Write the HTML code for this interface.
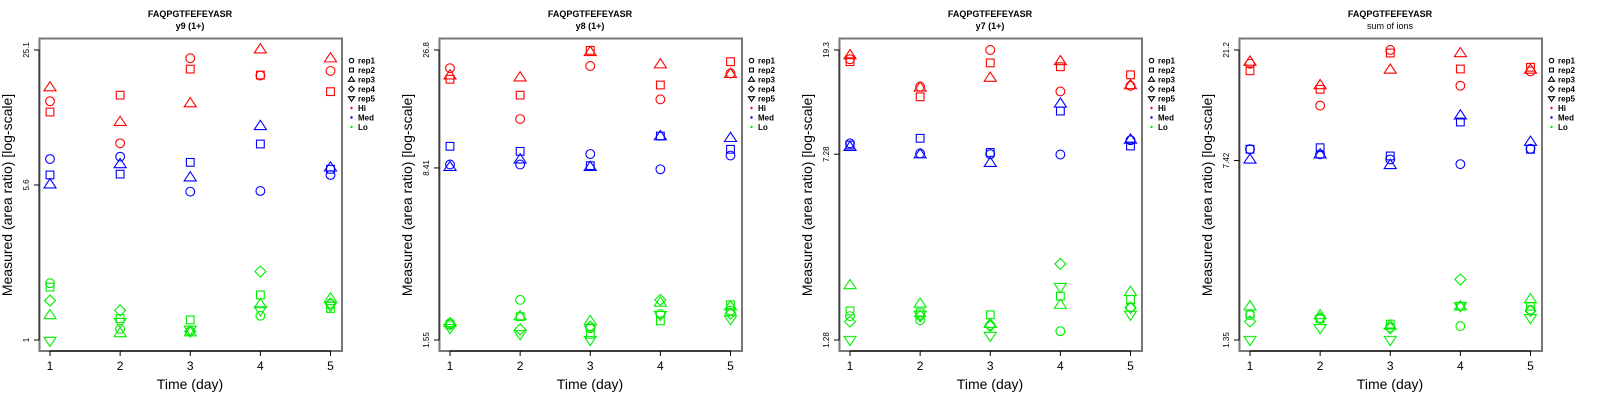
<!DOCTYPE html>
<html><head><meta charset="utf-8">
<style>
body{margin:0;background:#fff;}
svg{display:block;font-family:"Liberation Sans",sans-serif;}
</style></head>
<body>
<svg id="chart" width="1600" height="400" viewBox="0 0 1600 400" xmlns="http://www.w3.org/2000/svg"></svg>
<script>
const days = [1, 2, 3, 4, 5];
const panelTitles = ["y9 (1+)", "y8 (1+)", "y7 (1+)", "sum of ions"];
const peptide = "FAQPGTFEFEYASR";
const yTickLabels = [["1", "5.6", "25.1"], ["1.55", "8.41", "26.8"], ["1.28", "7.28", "19.3"], ["1.35", "7.42", "21.2"]];
const yTickValues = [[1, 5.6, 25.1], [1.55, 8.41, 26.8], [1.28, 7.28, 19.3], [1.35, 7.42, 21.2]];
const repNames = ["rep1", "rep2", "rep3", "rep4", "rep5"];
const groupNames = ["Hi", "Med", "Lo"];
const groupColors = ["#ff0000", "#0000ff", "#00ee00"];

// each array: rows = replicates (rep1..rep5), columns = days 1..5
const p1Hi = [[14.2, 8.9, 22.9, 18.9, 19.9], [12.6, 15.2, 20.3, 19.0, 15.8], [16.6, 11.3, 13.9, 25.3, 22.9]];
const p1Med = [[7.47, 7.67, 5.2, 5.24, 6.26], [6.26, 6.32, 7.2, 8.83, 6.67], [5.64, 7.07, 6.1, 10.8, 6.81]];
const p1Lo = [[1.88, 1.13, 1.1, 1.31, 1.49], [1.80, 1.27, 1.25, 1.65, 1.42], [1.32, 1.08, 1.09, 1.49, 1.59], [1.55, 1.39, 1.1, 2.14, 1.50], [0.99, 1.22, 1.12, 1.39, 1.46]];
const p2Hi = [[22.4, 13.6, 22.9, 16.5, 21.3], [20.1, 17.2, 26.7, 19.0, 23.9], [20.9, 20.5, 26.3, 23.3, 21.2]];
const p2Med = [[8.7, 8.7, 9.64, 8.3, 9.5], [10.4, 9.9, 8.6, 11.5, 10.1], [8.5, 9.15, 8.5, 11.5, 11.3]];
const p2Lo = [[1.83, 2.3, 1.74, 2.0, 2.07], [1.80, 1.95, 1.64, 1.87, 2.19], [1.83, 1.96, 1.87, 2.24, 2.16], [1.81, 1.72, 1.77, 2.3, 2.01], [1.74, 1.64, 1.55, 1.98, 1.9]];
const p3Hi = [[17.7, 13.7, 19.3, 13.1, 13.8], [17.3, 12.45, 17.1, 16.5, 15.3], [18.4, 13.6, 14.9, 17.4, 13.9]];
const p3Med = [[8.06, 7.33, 7.28, 7.26, 8.3], [7.93, 8.45, 7.4, 10.9, 7.86], [7.8, 7.28, 6.72, 11.7, 8.35]];
const p3Lo = [[1.6, 1.54, 1.47, 1.39, 1.74], [1.68, 1.65, 1.62, 1.93, 1.87], [2.14, 1.8, 1.49, 1.78, 2.01], [1.52, 1.6, 1.46, 2.61, 1.73], [1.28, 1.62, 1.33, 2.1, 1.62]];
const p4Hi = [[18.6, 12.5, 21.2, 15.1, 17.3], [17.4, 14.6, 20.6, 17.7, 18.0], [19.0, 15.2, 17.6, 20.6, 17.6]];
const p4Med = [[8.26, 7.87, 7.5, 7.17, 8.3], [8.26, 8.38, 7.75, 10.7, 8.26], [7.5, 7.87, 7.12, 11.4, 8.88]];
const p4Lo = [[1.71, 1.66, 1.52, 1.54, 1.8], [1.73, 1.65, 1.57, 1.86, 1.86], [1.86, 1.71, 1.55, 1.86, 1.99], [1.61, 1.66, 1.51, 2.4, 1.78], [1.35, 1.51, 1.35, 1.86, 1.66]];

const panels = [[p1Hi, p1Med, p1Lo], [p2Hi, p2Med, p2Lo], [p3Hi, p3Med, p3Lo], [p4Hi, p4Med, p4Lo]];

const NS = "http://www.w3.org/2000/svg";
const svg = document.getElementById("chart");
function mk(tag, attrs, parent) {
  const e = document.createElementNS(NS, tag);
  for (const k in attrs) e.setAttribute(k, attrs[k]);
  parent.appendChild(e);
  return e;
}
function marker(parent, shape, cx, cy, r, color) {
  let e;
  const st = {fill: "none", stroke: color, "stroke-width": 1.1};
  if (shape === 0) { e = mk("circle", Object.assign({cx: cx, cy: cy, r: r}, st), parent); }
  else if (shape === 1) { e = mk("rect", Object.assign({x: cx - r * 0.88, y: cy - r * 0.88, width: r * 1.76, height: r * 1.76}, st), parent); }
  else if (shape === 2) { const h = r * 1.1; e = mk("polygon", Object.assign({points: `${cx},${cy - h * 1.15} ${cx - h * 1.25},${cy + h * 0.75} ${cx + h * 1.25},${cy + h * 0.75}`}, st), parent); }
  else if (shape === 3) { const h = r * 1.25; e = mk("polygon", Object.assign({points: `${cx},${cy - h} ${cx + h},${cy} ${cx},${cy + h} ${cx - h},${cy}`}, st), parent); }
  else { const h = r * 1.1; e = mk("polygon", Object.assign({points: `${cx},${cy + h * 1.15} ${cx - h * 1.25},${cy - h * 0.75} ${cx + h * 1.25},${cy - h * 0.75}`}, st), parent); }
  return e;
}

panels.forEach((groups, pi) => {
  const ox = pi * 400;
  const g = mk("g", {}, svg);
  
  
  const ticks = yTickValues[pi];
  const lmin = Math.log10(ticks[0]), lmax = Math.log10(ticks[2]);
  const yS = v => 340 - (Math.log10(v) - lmin) / (lmax - lmin) * 290;
  const xS = d => ox + 50 + (d - 1) / 4 * 280.5;

  const t1 = mk("text", {x: ox + 190, y: 17, "font-size": 9, "font-weight": "bold", "text-anchor": "middle"}, g);
  t1.textContent = peptide;
  
  
  const t2 = mk("text", {x: ox + 190, y: 29, "font-size": 9, "font-weight": pi === 3 ? "normal" : "bold", "text-anchor": "middle"}, g);
  t2.textContent = panelTitles[pi];
  
  

  const frame = mk("rect", {x: ox + 39.5, y: 38.5, width: 302.5, height: 312.5, fill: "none", stroke: "#777", "stroke-width": 2}, g);
  
  

  const xa = mk("g", {}, g);
  
  
  mk("line", {x1: xS(1), x2: xS(5), y1: 351, y2: 351, stroke: "#000", "stroke-width": 1}, xa);
  days.forEach(d => {
    mk("line", {x1: xS(d), x2: xS(d), y1: 351, y2: 356, stroke: "#000", "stroke-width": 1}, xa);
    const tl = mk("text", {x: xS(d), y: 370, "font-size": 12, "text-anchor": "middle"}, xa);
    tl.textContent = String(d);
    
    
  });
  const xt = mk("text", {x: ox + 190, y: 389, "font-size": 14, "text-anchor": "middle"}, g);
  xt.textContent = "Time (day)";
  
  

  const ya = mk("g", {}, g);
  
  
  mk("line", {x1: ox + 39, x2: ox + 39, y1: yS(ticks[0]), y2: yS(ticks[2]), stroke: "#000", "stroke-width": 1}, ya);
  ticks.forEach((v, ti) => {
    const y = yS(v);
    mk("line", {x1: ox + 34, x2: ox + 39, y1: y, y2: y, stroke: "#000", "stroke-width": 1}, ya);
    const tl = mk("text", {x: 0, y: 0, "font-size": 8, "text-anchor": "middle", transform: `translate(${ox + 29},${y}) rotate(-90)`}, ya);
    tl.textContent = yTickLabels[pi][ti];
    
    
  });
  const yt = mk("text", {x: 0, y: 0, "font-size": 14, "text-anchor": "middle", transform: `translate(${ox + 12},${195}) rotate(-90)`}, g);
  yt.textContent = "Measured (area ratio) [log-scale]";
  
  

  groups.forEach((reps, gi) => {
    reps.forEach((vals, ri) => {
      vals.forEach((v, di) => {
        const m = marker(g, ri, xS(days[di]), yS(v), 4.4, groupColors[gi]);
        
        
      });
    });
  });

  const lg = mk("g", {}, g);
  
  
  const rowsY = [60.5, 70, 79.5, 89, 98.5, 108, 117.5, 127];
  repNames.forEach((n, i) => {
    marker(lg, i, ox + 351.5, rowsY[i], 2.2, "#000");
    const tx = mk("text", {x: ox + 358, y: rowsY[i] + 3, "font-size": 8, "font-weight": "bold"}, lg);
    tx.textContent = n;
    
    
  });
  groupNames.forEach((n, i) => {
    const y = rowsY[5 + i];
    mk("circle", {cx: ox + 351.5, cy: y, r: 1.2, fill: groupColors[i]}, lg);
    const tx = mk("text", {x: ox + 358, y: y + 3, "font-size": 8, "font-weight": "bold"}, lg);
    tx.textContent = n;
    
    
  });
});
</script>
</body></html>
